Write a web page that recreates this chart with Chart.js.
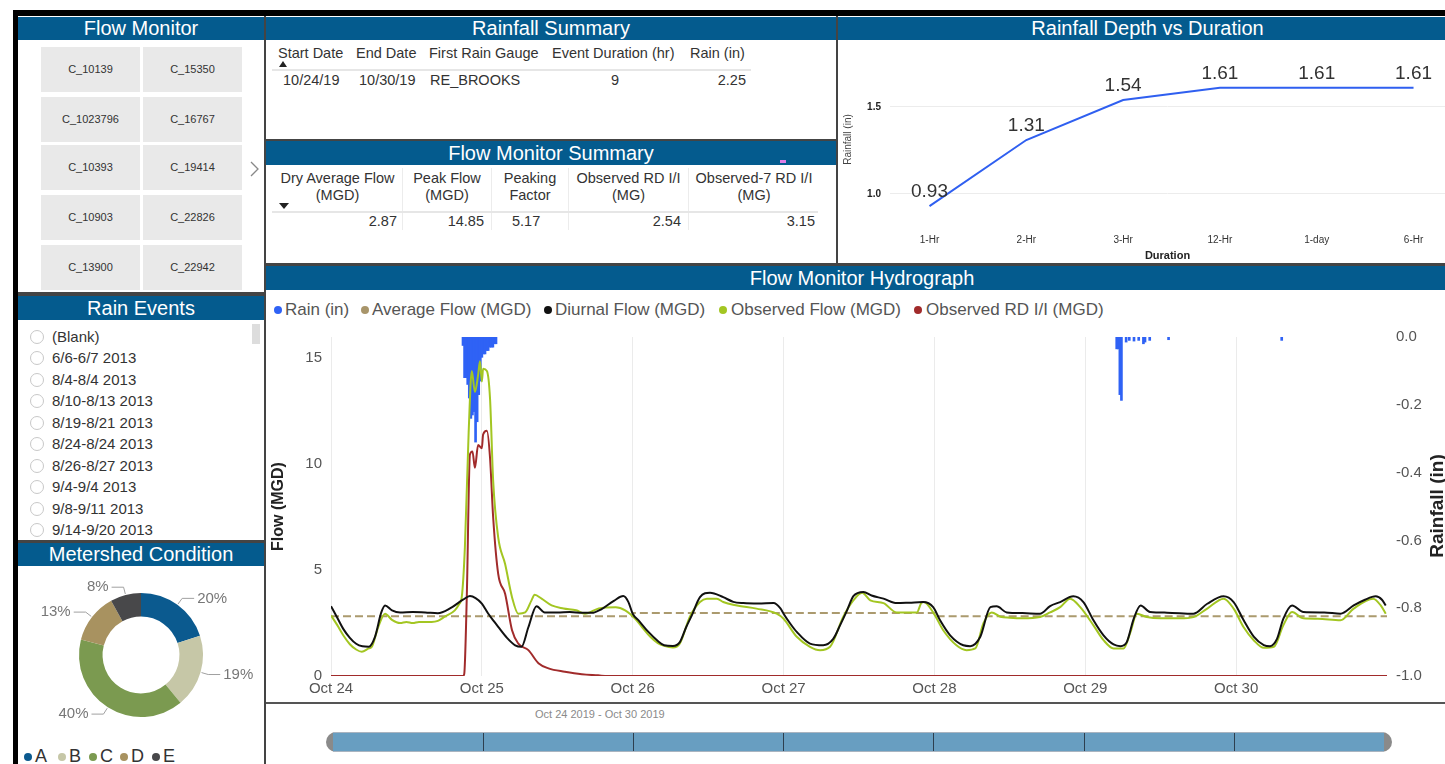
<!DOCTYPE html>
<html><head><meta charset="utf-8">
<script src="https://cdn.jsdelivr.net/npm/chart.js@4.4.1/dist/chart.umd.min.js"></script>
<style>
body{margin:0;width:1445px;height:764px;overflow:hidden;background:#fff;font-family:"Liberation Sans",Arial,sans-serif;position:relative;color:#333}
.a{position:absolute;white-space:nowrap}
.hdr{position:absolute;background:#045b8e;color:#fff;font-size:20px;line-height:23px;text-align:center;white-space:nowrap;overflow:hidden}
.btn{position:absolute;background:#e9e9e9;font-size:11px;color:#333;text-align:center;line-height:45px;height:45px}
.radio{position:absolute;width:12px;height:12px;border:1px solid #c8c8c8;border-radius:50%;background:#fff}
.ev{position:absolute;font-size:15px;color:#333;line-height:18px;white-space:nowrap}
.th{position:absolute;font-size:14.5px;color:#333;line-height:17px;white-space:nowrap}
.td{position:absolute;font-size:14.5px;color:#333;line-height:17px;white-space:nowrap}
.sep{position:absolute;background:#444}
.vl{position:absolute;background:#ececec;width:1px}
.lg{position:absolute;font-size:17px;color:#555;line-height:20px;white-space:nowrap}
.dot{position:absolute;width:8px;height:8px;border-radius:50%}
canvas{position:absolute}
</style></head><body>

<!-- frame -->
<div class="a" style="left:13px;top:10px;width:1432px;height:6px;background:#000"></div>
<div class="a" style="left:13px;top:10px;width:5px;height:754px;background:#000"></div>
<div class="sep" style="left:264px;top:16px;width:2px;height:748px"></div>
<div class="sep" style="left:836px;top:16px;width:2px;height:248px"></div>
<div class="sep" style="left:266px;top:139px;width:570px;height:2px"></div>
<div class="sep" style="left:266px;top:263px;width:1179px;height:3px"></div>
<div class="sep" style="left:266px;top:702px;width:1179px;height:2px;background:#555"></div>
<div class="sep" style="left:18px;top:292px;width:246px;height:4px"></div>
<div class="sep" style="left:18px;top:540px;width:246px;height:3px"></div>

<!-- headers -->
<div class="hdr" style="left:18px;top:17px;width:246px;height:23px">Flow Monitor</div>
<div class="hdr" style="left:18px;top:296px;width:246px;height:24px;line-height:24px">Rain Events</div>
<div class="hdr" style="left:18px;top:543px;width:246px;height:23px">Metershed Condition</div>
<div class="hdr" style="left:266px;top:17px;width:570px;height:23px">Rainfall Summary</div>
<div class="hdr" style="left:266px;top:141px;width:570px;height:24px;line-height:25px">Flow Monitor Summary</div>
<div class="hdr" style="left:838px;top:17px;width:620px;height:23px;text-indent:-1px">Rainfall Depth vs Duration</div>
<div class="hdr" style="left:266px;top:266px;width:1192px;height:24px;line-height:24px">Flow Monitor Hydrograph</div>

<div id="fm"></div>
<svg class="a" style="left:248px;top:160px" width="14" height="18"><polyline points="3,2 10,9 3,16" fill="none" stroke="#888" stroke-width="1.3"/></svg>

<div id="events"></div>
<div class="a" style="left:252px;top:324px;width:8px;height:20px;background:#ddd"></div>

<!-- Rainfall summary table -->
<div class="th" style="left:278px;top:45px">Start Date</div>
<div class="th" style="left:356px;top:45px">End Date</div>
<div class="th" style="left:429px;top:45px">First Rain Gauge</div>
<div class="th" style="left:552px;top:45px">Event Duration (hr)</div>
<div class="th" style="left:690px;top:45px">Rain (in)</div>
<div class="a" style="left:279px;top:61px;width:0;height:0;border-left:4px solid transparent;border-right:4px solid transparent;border-bottom:6px solid #222"></div>
<div class="a" style="left:272px;top:69px;width:479px;height:2px;background:#e6e6e6"></div>
<div class="td" style="left:283px;top:72px">10/24/19</div>
<div class="td" style="left:359px;top:72px">10/30/19</div>
<div class="td" style="left:430px;top:72px">RE_BROOKS</div>
<div class="td" style="left:595px;top:72px;width:40px;text-align:center">9</div>
<div class="td" style="left:695px;top:72px;width:51px;text-align:right">2.25</div>

<!-- Flow monitor summary table -->
<div class="vl" style="left:402px;top:168px;height:62px"></div>
<div class="vl" style="left:491px;top:168px;height:62px"></div>
<div class="vl" style="left:568px;top:168px;height:62px"></div>
<div class="vl" style="left:688px;top:168px;height:62px"></div>
<div class="th" style="left:272px;top:170px;width:131px;text-align:center">Dry Average Flow<br>(MGD)</div>
<div class="th" style="left:403px;top:170px;width:88px;text-align:center">Peak Flow<br>(MGD)</div>
<div class="th" style="left:492px;top:170px;width:76px;text-align:center">Peaking<br>Factor</div>
<div class="th" style="left:569px;top:170px;width:119px;text-align:center">Observed RD I/I<br>(MG)</div>
<div class="th" style="left:689px;top:170px;width:130px;text-align:center">Observed-7 RD I/I<br>(MG)</div>
<div class="a" style="left:279px;top:203px;width:0;height:0;border-left:5px solid transparent;border-right:5px solid transparent;border-top:6px solid #222"></div>
<div class="a" style="left:272px;top:211px;width:546px;height:2px;background:#e6e6e6"></div>
<div class="td" style="left:330px;top:213px;width:67px;text-align:right">2.87</div>
<div class="td" style="left:420px;top:213px;width:64px;text-align:right">14.85</div>
<div class="td" style="left:512px;top:213px">5.17</div>
<div class="td" style="left:620px;top:213px;width:61px;text-align:right">2.54</div>
<div class="td" style="left:750px;top:213px;width:65px;text-align:right">3.15</div>
<div class="a" style="left:780px;top:160px;width:6px;height:3px;background:#e07ee6"></div>

<!-- depth chart -->
<canvas id="depth" width="607" height="221" style="left:838px;top:44px"></canvas>

<!-- hydrograph legend -->
<div class="dot" style="left:274px;top:306px;background:#2f62f5"></div><div class="lg" style="left:285px;top:300px">Rain (in)</div>
<div class="dot" style="left:361px;top:306px;background:#a8956a"></div><div class="lg" style="left:372px;top:300px">Average Flow (MGD)</div>
<div class="dot" style="left:544px;top:306px;background:#111"></div><div class="lg" style="left:555px;top:300px">Diurnal Flow (MGD)</div>
<div class="dot" style="left:719px;top:306px;background:#a3c622"></div><div class="lg" style="left:731px;top:300px">Observed Flow (MGD)</div>
<div class="dot" style="left:914px;top:306px;background:#a12b2b"></div><div class="lg" style="left:926px;top:300px">Observed RD I/I (MGD)</div>

<canvas id="hydro" width="1175" height="376" style="left:266px;top:326px"></canvas>
<div class="a" style="left:1337px;top:494px;width:200px;height:24px;line-height:24px;text-align:center;font-weight:bold;font-size:19px;color:#222;transform:rotate(-90deg)">Rainfall (in)</div>

<!-- slider -->
<div class="a" style="left:535px;top:707px;font-size:11px;color:#8a8a8a;line-height:14px">Oct 24 2019 - Oct 30 2019</div>
<div class="a" style="left:326px;top:732px;width:1066px;height:20px;background:#8a8a8a;border-radius:10px"></div>
<div class="a" style="left:333px;top:732px;width:1051px;height:18px;background:#689ec1;border-top:1px solid #a9b4c0;border-bottom:1px solid #a9b4c0"></div>
<div id="slider"></div>

<!-- donut -->
<canvas id="donut" width="246" height="174" style="left:18px;top:568px"></canvas>
<div id="dlegend"></div>

<script>
// ---------- data ----------
const flowMonitors = ['C_10139','C_15350','C_1023796','C_16767','C_10393','C_19414','C_10903','C_22826','C_13900','C_22942'];
const rainEvents = ['(Blank)','6/6-6/7 2013','8/4-8/4 2013','8/10-8/13 2013','8/19-8/21 2013','8/24-8/24 2013','8/26-8/27 2013','9/4-9/4 2013','9/8-9/11 2013','9/14-9/20 2013'];

const durations = ['1-Hr','2-Hr','3-Hr','12-Hr','1-day','6-Hr'];
const depthIn = [0.93,1.31,1.54,1.61,1.61,1.61];
const depthTicks = [1.0,1.5];

const conditions = ['A','B','C','D','E'];
const conditionPct = [20,19,40,13,8];
const conditionColors = ['#0b5a8f','#c6c7a7','#7b9a50','#a89260','#48484a'];

const dayLabels = ['Oct 24','Oct 25','Oct 26','Oct 27','Oct 28','Oct 29','Oct 30'];
const dayStartHours = [0,24,48,72,96,120,144];
const endHour = 168;
const flowTicks = [0,5,10,15];
const rainAxisTicks = [0,-0.2,-0.4,-0.6,-0.8,-1.0];

// rain depth (in) per 15-min interval, hour since Oct 24 00:00
const rainHours = [21.0,21.25,21.5,21.75,22.0,22.25,22.5,22.75,23.0,23.25,23.5,23.75,24.0,24.25,24.5,24.75,25.0,25.25,25.5,25.75,26.0,26.25,
  125.0,125.25,125.5,125.75,126.5,127.0,127.75,128.5,129.25,129.5,130.25,133.25,151.25];
const rainDepth = [0.025,0.12,0.12,0.14,0.18,0.24,0.23,0.22,0.31,0.25,0.17,0.13,0.06,0.05,0.05,0.04,0.04,0.03,0.03,0.03,0.02,0.02,
  0.035,0.035,0.17,0.187,0.015,0.01,0.012,0.01,0.02,0.015,0.01,0.008,0.01];

// dry average flow by day (MGD)
const avgFlowByDay = [2.82,2.82,2.97,2.97,2.82,2.82,2.82];

// [hour, MGD]
const diurnalFlow = [[0,3.29],[1,2.75],[2,2.2],[3,1.8],[4,1.52],[5,1.4],[6,1.38],[7,1.85],[8,3.0],[8.6,3.33],[9.7,3.1],[11,3.0],[13,3.02],[15,3.0],[17,2.96],[19,3.2],[21,3.6],[22.1,3.77],[23,3.68],[24,3.42],
  [25,2.95],[26,2.55],[26.6,2.32],[28,1.8],[29.3,1.45],[30.3,1.38],[31.4,2.3],[32.7,3.29],[34,3.0],[36,3.0],[38,3.02],[40,2.98],[41.5,2.98],[43,3.15],[45,3.55],[46.5,3.77],[47.3,3.5],[48,2.94],
  [49,2.6],[50.5,2.08],[52,1.65],[53,1.45],[54.4,1.42],[55.5,1.6],[56.5,2.3],[57.4,2.86],[58.7,3.72],[60.3,3.93],[62.4,3.72],[64,3.5],[65.6,3.44],[68,3.42],[70.4,3.44],[71.5,3.19],[72,2.94],
  [73,2.5],[74.1,2.08],[76.2,1.53],[78.3,1.45],[79.9,1.75],[81,2.4],[82.1,3.1],[83.1,3.77],[84.7,3.97],[86,3.8],[87.9,3.65],[90,3.44],[92,3.46],[94.2,3.49],[95.8,3.25],[96.9,2.63],
  [98.5,1.92],[100.6,1.45],[101.7,1.41],[103.3,1.85],[104.9,3.25],[105.9,3.29],[107.5,3.0],[110,2.97],[112.8,2.94],[114.4,3.3],[116,3.49],[118.1,3.76],[119.7,3.49],
  [121.3,2.63],[122.9,1.92],[124.5,1.49],[125.6,1.41],[126.6,1.6],[127.7,2.7],[128.8,3.33],[130.3,3.02],[133,2.99],[137.2,2.94],[139.4,3.41],[142,3.76],[143.6,3.49],
  [145.2,2.63],[146.8,1.86],[148.4,1.46],[149.4,1.41],[150.5,1.75],[151.5,2.7],[152.9,3.33],[154.7,3.02],[158,3.0],[160.6,2.94],[162.7,3.33],[164.5,3.6],[166.2,3.76],[167.2,3.6],[167.8,3.33]];

const observedFlow = [[0,2.86],[1,2.4],[2,1.9],[3,1.5],[4,1.25],[4.9,1.14],[6,1.3],[6.5,1.38],[7.5,2.3],[8.6,2.94],[9.7,2.65],[11,2.5],[12,2.55],[13,2.5],[14,2.55],[15,2.55],[16,2.55],[17,2.6],[18.1,2.8],[19.7,3.1],[20.4,3.4],[20.8,3.72],
  [21.3,6.07],[21.9,11.5],[22.4,14.4],[22.9,13.4],[23.4,14.2],[23.7,14.85],[24,13.9],[24.2,14.5],[24.8,14.4],[25.3,13.1],[25.8,9.2],[26.6,6.54],[27.7,5.29],[28.8,3.72],[29.8,2.94],[30.9,3.0],[31.9,3.57],[32.4,3.83],[33.5,3.65],[35.1,3.33],[37,3.19],[39,3.1],[40.4,2.94],[42.6,3.19],[45.3,3.25],[46.8,3.1],[48.4,2.7],
  [49.5,2.3],[50.8,1.85],[52,1.55],[53,1.42],[54.4,1.34],[55.5,1.53],[57.1,2.8],[58.7,3.49],[59.8,3.65],[61.4,3.65],[62.4,3.49],[64.6,3.33],[67.7,3.18],[70.9,2.94],[72,2.7],
  [74.1,1.85],[76.2,1.38],[77.8,1.22],[79.4,1.38],[81.5,2.8],[83.1,3.57],[84.5,3.93],[85.8,3.57],[87.9,3.44],[90,3.0],[93.2,3.0],[93.9,3.44],[94.3,3.49],[95.8,3.0],[97.4,2.16],
  [99.5,1.45],[101.1,1.22],[102.5,1.3],[103.8,2.49],[105.1,3.0],[106.5,2.8],[108,2.75],[110,2.72],[112.8,2.78],[114.4,3.0],[116,3.25],[117.6,3.65],[119.2,3.25],
  [121.3,2.39],[122.9,1.69],[124.5,1.3],[126.1,1.3],[127.2,2.08],[128.2,2.94],[129.8,2.78],[132,2.72],[135,2.72],[137.2,2.78],[139.4,3.18],[142,3.65],[143.6,3.18],
  [145.2,2.3],[146.8,1.69],[148.4,1.33],[150,1.38],[151.5,2.39],[152.9,3.02],[154.7,2.72],[157,2.7],[160.6,2.63],[162.7,3.18],[165.8,3.65],[167,3.33],[167.8,2.94]];

const rdiiFlow = [[0,0],[21.0,0],[21.2,0.1],[21.6,3.72],[22.1,10.45],[22.5,10.6],[22.9,9.83],[23.4,10.9],[24,10.75],[24.2,11.4],[24.8,11.57],[25.3,10.3],[25.8,7.48],[26.6,4.82],[27.7,3.88],[28.8,2.16],[29.8,1.53],[31.4,1.22],[33,0.6],[34.6,0.36],[37.2,0.2],[39.9,0.08],[42.5,0.03],[44,0],[168,0]];

// ---------- static UI ----------
const FONT = '"Liberation Sans", Arial, sans-serif';
Chart.defaults.font.family = FONT;
(function(){
  const fm = document.getElementById('fm');
  const cols=[41,143], rows=[47,97,145,195,245];
  flowMonitors.forEach((n,i)=>{
    const d=document.createElement('div'); d.className='btn';
    d.style.left=cols[i%2]+'px'; d.style.top=rows[Math.floor(i/2)]+'px'; d.style.width='99px';
    d.textContent=n; fm.appendChild(d);
  });
  const ev=document.getElementById('events');
  rainEvents.forEach((t,i)=>{
    const y=336.5+21.5*i;
    const r=document.createElement('div'); r.className='radio'; r.style.left='30px'; r.style.top=(y-7)+'px'; ev.appendChild(r);
    const s=document.createElement('div'); s.className='ev'; s.style.left='52px'; s.style.top=(y-9)+'px'; s.textContent=t; ev.appendChild(s);
  });
  const sl=document.getElementById('slider');
  [483,633,783,933,1084,1234].forEach(x=>{
    const d=document.createElement('div'); d.className='a';
    d.style.cssText='left:'+x+'px;top:733px;width:1px;height:18px;background:#2d3f4f';
    sl.appendChild(d);
  });
  const lg=document.getElementById('dlegend');
  const lx=[24,58,89,120,152];
  conditions.forEach((c,i)=>{
    const d=document.createElement('div'); d.className='dot';
    d.style.left=lx[i]+'px'; d.style.top='753px'; d.style.background=conditionColors[i]; lg.appendChild(d);
    const t=document.createElement('div'); t.className='a';
    t.style.cssText='left:'+(lx[i]+11)+'px;top:746px;font-size:18px;line-height:21px;color:#333';
    t.textContent=c; lg.appendChild(t);
  });
})();

// fix axis box sizes and drop tick-label overflow padding
const fixW = w => s => { s.width = w; s.paddingTop = 0; s.paddingBottom = 0; };
const fixH = h => s => { s.height = h; s.paddingLeft = 0; s.paddingRight = 0; };

// ---------- depth chart ----------
new Chart(document.getElementById('depth'), {
  type:'line',
  data:{datasets:[{data:depthIn.map((v,i)=>({x:i,y:v})),borderColor:'#2f5ff0',borderWidth:2,pointRadius:0,tension:0}]},
  options:{
    responsive:false, animation:false, devicePixelRatio:1,
    layout:{padding:{top:8,right:0,left:0,bottom:0}},
    plugins:{legend:{display:false},tooltip:{enabled:false}},
    scales:{
      x:{type:'linear',min:-0.408,max:5.325,
        afterBuildTicks:s=>{s.ticks=durations.map((d,i)=>({value:i}));},
        afterFit:fixH(38),
        ticks:{callback:(v,i)=>durations[i],font:{size:10},color:'#333',padding:7,maxRotation:0,autoSkip:false},
        grid:{display:false,drawTicks:false}, border:{display:false},
        title:{display:true,text:'Duration',font:{size:11,weight:'bold'},color:'#222',padding:{top:0,bottom:2}}},
      y:{min:0.81,max:1.816,
        afterBuildTicks:s=>{s.ticks=depthTicks.map(v=>({value:v}));},
        afterFit:fixW(52),
        ticks:{callback:v=>v.toFixed(1),font:{size:10,weight:'bold'},color:'#222',padding:9},
        grid:{color:'#ececec',drawTicks:false}, border:{display:false},
        title:{display:true,text:'Rainfall (in)',font:{size:10},color:'#444',padding:{top:4,bottom:0}}}
    }
  },
  plugins:[{id:'vals',afterDatasetsDraw(chart){
    const ctx=chart.ctx, meta=chart.getDatasetMeta(0);
    ctx.save(); ctx.font='19px '+FONT; ctx.fillStyle='#333'; ctx.textAlign='center'; ctx.textBaseline='bottom';
    meta.data.forEach((p,i)=>ctx.fillText(depthIn[i].toFixed(2),p.x,p.y-5));
    ctx.restore();
  }}]
});

// ---------- donut ----------
new Chart(document.getElementById('donut'), {
  type:'doughnut',
  data:{labels:conditions,datasets:[{data:conditionPct,backgroundColor:conditionColors,borderWidth:0}]},
  options:{responsive:false,animation:false,devicePixelRatio:1,cutout:'62%',
    layout:{padding:25},
    plugins:{legend:{display:false},tooltip:{enabled:false}}},
  plugins:[{id:'lbl',afterDraw(chart){
    const ctx=chart.ctx, meta=chart.getDatasetMeta(0);
    ctx.save(); ctx.font='15px '+FONT; ctx.textBaseline='middle';
    meta.data.forEach((arc,i)=>{
      const {x,y,startAngle,endAngle,outerRadius}=arc.getProps(['x','y','startAngle','endAngle','outerRadius']);
      const m=(startAngle+endAngle)/2, c=Math.cos(m), s=Math.sin(m);
      const x0=x+c*(outerRadius+1), y0=y+s*(outerRadius+1);
      const x1=x+c*(outerRadius+8), y1=y+s*(outerRadius+8);
      const dir=c>=0?1:-1, x2=x1+dir*12;
      ctx.strokeStyle='#a0a0a0'; ctx.lineWidth=1;
      ctx.beginPath(); ctx.moveTo(x0,y0); ctx.lineTo(x1,y1); ctx.lineTo(x2,y1); ctx.stroke();
      ctx.fillStyle='#777'; ctx.textAlign=dir>0?'left':'right';
      ctx.fillText(conditionPct[i]+'%',x2+dir*3,y1);
    });
    ctx.restore();
  }}]
});

// ---------- hydrograph ----------
const pts = arr => arr.map(p=>({x:p[0],y:p[1]}));
const avgPts = dayStartHours.map((h,i)=>({x:h,y:avgFlowByDay[i]})).concat([{x:endHour,y:avgFlowByDay[avgFlowByDay.length-1]}]);
new Chart(document.getElementById('hydro'), {
  type:'line',
  data:{datasets:[
    {label:'Diurnal Flow (MGD)',data:pts(diurnalFlow),borderColor:'#111',borderWidth:2,pointRadius:0,cubicInterpolationMode:'monotone',yAxisID:'y',order:1},
    {label:'Observed Flow (MGD)',data:pts(observedFlow),borderColor:'#a3c622',borderWidth:2,pointRadius:0,cubicInterpolationMode:'monotone',yAxisID:'y',order:2},
    {label:'Observed RD I/I (MGD)',data:pts(rdiiFlow),borderColor:'#a12b2b',borderWidth:2,pointRadius:0,cubicInterpolationMode:'monotone',yAxisID:'y',order:3},
    {label:'Average Flow (MGD)',data:avgPts,borderColor:'#ab9a6e',borderWidth:2,borderDash:[8,4],pointRadius:0,stepped:true,yAxisID:'y',order:4},
    {type:'bar',label:'Rain (in)',data:rainHours.map((h,i)=>({x:h,y:-rainDepth[i]})),backgroundColor:'#2f62f5',barThickness:2,yAxisID:'y1',order:5}
  ]},
  options:{
    responsive:false,animation:false,devicePixelRatio:1,
    layout:{padding:{top:11,left:0,right:0,bottom:0}},
    plugins:{legend:{display:false},tooltip:{enabled:false}},
    scales:{
      x:{type:'linear',min:0,max:endHour,offset:false,
        afterBuildTicks:s=>{s.ticks=dayStartHours.map(v=>({value:v}));},
        afterFit:fixH(26),
        ticks:{callback:(v,i)=>dayLabels[i],font:{size:15},color:'#555',padding:4,maxRotation:0,autoSkip:false},
        grid:{color:'#ebebeb',drawTicks:false,offset:false}, border:{display:false}},
      y:{position:'left',min:0,max:16,
        afterBuildTicks:s=>{s.ticks=flowTicks.map(v=>({value:v}));},
        afterFit:fixW(65),
        ticks:{callback:v=>String(v),font:{size:15},color:'#555',padding:9},
        grid:{display:false,drawTicks:false}, border:{display:false},
        title:{display:true,text:'Flow (MGD)',font:{size:16,weight:'bold'},color:'#222',padding:{top:3,bottom:0}}},
      y1:{position:'right',min:-1,max:0,
        afterBuildTicks:s=>{s.ticks=rainAxisTicks.map(v=>({value:v}));},
        afterFit:fixW(54),
        ticks:{callback:v=>v.toFixed(1),font:{size:15},color:'#555',padding:9},
        grid:{display:false,drawTicks:false}, border:{display:false}}
    }
  }
});
</script>
</body></html>
